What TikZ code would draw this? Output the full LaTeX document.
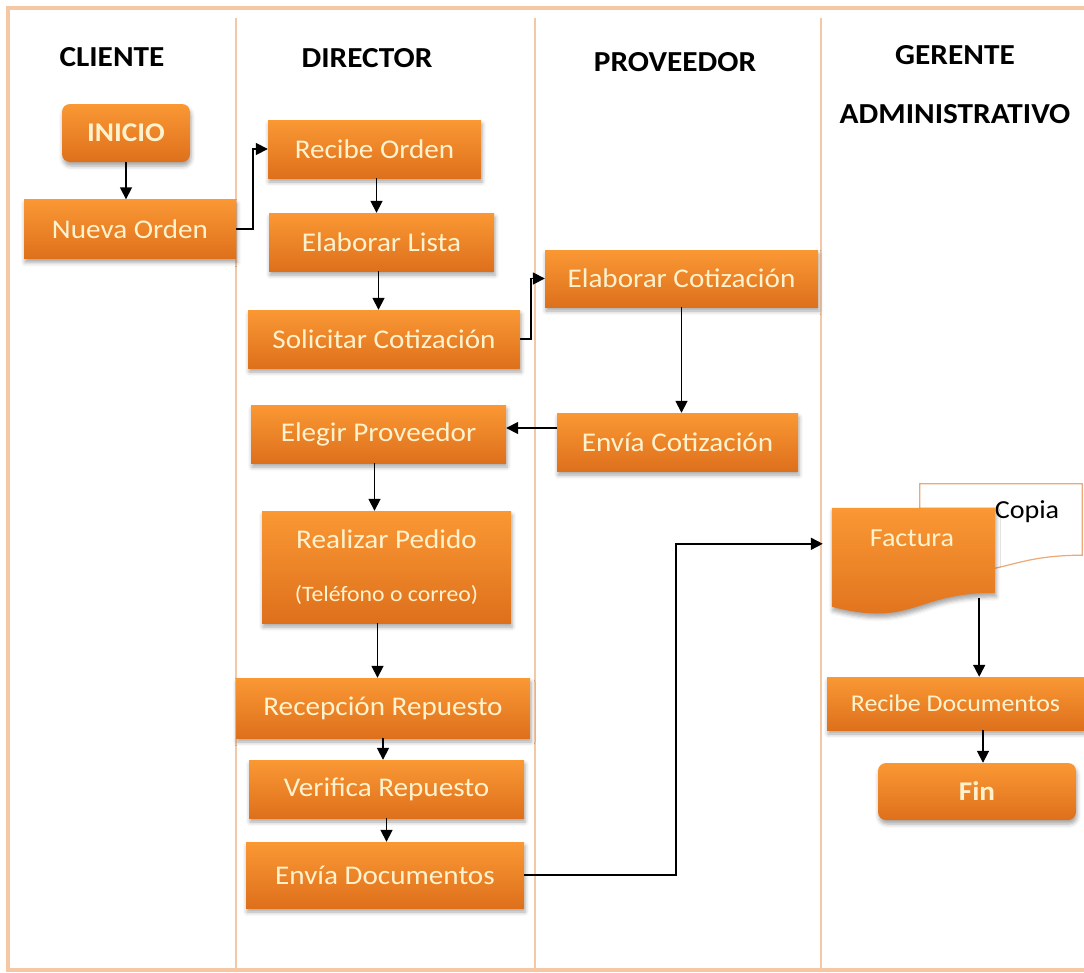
\documentclass[tikz,border=0pt]{standalone}
\usepackage{fontspec}
\setmainfont{Carlito}[FakeStretch=1.08]
\usetikzlibrary{arrows.meta,shadows.blur,calc}

\definecolor{boxtop}{RGB}{250,152,52}
\definecolor{boxbot}{RGB}{222,112,28}
\definecolor{boxtext}{RGB}{255,242,205}
\definecolor{lanecol}{RGB}{244,200,165}
\definecolor{docedge}{RGB}{236,168,118}

\begin{document}
\begin{tikzpicture}[x=1pt,y=1pt,
  boxshadow/.style={blur shadow={shadow xshift=1pt, shadow yshift=-4pt,
      shadow blur radius=4pt, shadow opacity=35}},
  stepbox/.style={rectangle, top color=boxtop, bottom color=boxbot,
      text=boxtext, inner sep=0pt, boxshadow,
      font=\fontsize{27}{32}\selectfont},
  endbox/.style={stepbox, rounded corners=8pt, font=\fontsize{27}{32}\selectfont\bfseries},
  head/.style={font=\fontsize{29}{34}\selectfont\bfseries, text=black, inner sep=0pt},
  arr/.style={-{Triangle[length=12pt,width=12pt]}, line width=1.7pt, black},
  docframe/.style={rectangle, inner sep=0pt, draw=none},
]
\useasboundingbox (0,0) rectangle (1084,-972);

% frame and swimlanes
\draw[lanecol, line width=4pt] (8,-8) rectangle (1110,-970);
\foreach \lx in {236,535,821}
  \draw[lanecol, line width=1.4pt] (\lx,-18) -- (\lx,-972);

% lane headings
\node[head] (h-cliente)  at (112,-57)  {CLIENTE};
\node[head] (h-director) at (367,-58)  {DIRECTOR};
\node[head] (h-prov)     at (675,-62)  {PROVEEDOR};
\node[head] (h-gerente)  at (955,-55)  {GERENTE};
\node[head] (h-admin)    at (955,-114) {ADMINISTRATIVO};

% CLIENTE
\node[endbox, minimum width=128pt, minimum height=58pt] (inicio) at (126,-133) {INICIO};
\node[stepbox, minimum width=212pt, minimum height=59pt] (nueva) at (130,-229) {Nueva Orden};

% DIRECTOR
\node[stepbox, minimum width=213pt, minimum height=58pt] (recibe)    at (374.5,-149) {Recibe Orden};
\node[stepbox, minimum width=225pt, minimum height=58pt] (elablista) at (381.5,-242) {Elaborar Lista};
\node[stepbox, minimum width=272pt, minimum height=58pt] (solic)     at (384,-339)   {Solicitar Cotización};
\node[stepbox, minimum width=255pt, minimum height=58pt] (elegir)    at (378.5,-434) {Elegir Proveedor};
\node[stepbox, minimum width=249pt, minimum height=112pt, align=center] (realizar) at (386.5,-567)
  {Realizar Pedido\\[21pt]{\fontsize{22}{26}\selectfont(Teléfono o correo)}};
\node[stepbox, minimum width=294pt, minimum height=60pt] (recep)  at (383,-708)   {Recepción Repuesto};
\node[stepbox, minimum width=275pt, minimum height=58pt] (verif)  at (386.5,-789) {Verifica Repuesto};
\node[stepbox, minimum width=278pt, minimum height=66pt] (envdoc) at (385,-875)   {Envía Documentos};

% PROVEEDOR
\node[stepbox, minimum width=273pt, minimum height=57pt] (elabcot) at (681.5,-278.5) {Elaborar Cotización};
\node[stepbox, minimum width=241pt, minimum height=58pt] (envcot)  at (677.5,-442)   {Envía Cotización};

% GERENTE ADMINISTRATIVO: copy and invoice documents
\node[docframe, minimum width=162pt, minimum height=89pt]  (copia)   at (1001,-528.5) {};
\node[docframe, minimum width=163pt, minimum height=106pt] (factura) at (913.5,-561)  {};

\draw[docedge, line width=1.2pt, fill=white]
  (copia.north west) -- (copia.north east) -- ($(copia.north east)+(0,-71.4)$)
  .. controls ($(copia.north)+(0,-71.4)$) and ($(copia.north)+(0,-98.6)$)
  .. ($(copia.north west)+(0,-83.1)$) -- cycle;
\node[font=\fontsize{26}{30}\selectfont, text=black, inner sep=0pt] (copia-text) at (1027,-512) {Copia};

\path[top color=boxtop, bottom color=boxbot, boxshadow]
  (factura.north west) -- (factura.north east) -- ($(factura.north east)+(0,-85)$)
  .. controls ($(factura.north)+(0,-85)$) and ($(factura.north)+(0,-120)$)
  .. ($(factura.north west)+(0,-99)$) -- cycle;
\node[font=\fontsize{26}{30}\selectfont, text=boxtext, inner sep=0pt] (factura-text) at (912,-538) {Factura};

\node[stepbox, minimum width=257pt, minimum height=53pt, font=\fontsize{24}{28}\selectfont] (recdoc) at (955.5,-703.5) {Recibe Documentos};
\node[endbox, minimum width=198pt, minimum height=57pt] (fin) at (977,-791.5) {Fin};

% connectors
\draw[arr] (inicio.south) -- (inicio.south |- nueva.north);
\draw[arr] (nueva.east) -- ++(17,0) |- (recibe.west);
\draw[arr] ([xshift=2pt]recibe.south) -- ([xshift=2pt]recibe.south |- elablista.north);
\draw[arr] ([xshift=-3pt]elablista.south) -- ([xshift=-3pt]elablista.south |- solic.north);
\draw[arr] (solic.east) -- ++(11,0) |- (elabcot.west);
\draw[arr] (elabcot.south) -- (elabcot.south |- envcot.north);
\draw[arr] ([yshift=14pt]envcot.west) -- ([yshift=14pt]envcot.west -| elegir.east);
\draw[arr] ([xshift=-4pt]elegir.south) -- ([xshift=-4pt]elegir.south |- realizar.north);
\draw[arr] ([xshift=-9pt]realizar.south) -- ([xshift=-9pt]realizar.south |- recep.north);
\draw[arr] (recep.south) -- (recep.south |- verif.north);
\draw[arr] (verif.south) -- (verif.south |- envdoc.north);

\coordinate (fact-in)  at ([yshift=-36pt]factura.north west);
\coordinate (fact-out) at ([xshift=-16pt,yshift=16pt]factura.south east);
\draw[arr, shorten >=9pt] (envdoc.east) -- ++(152,0) |- (fact-in);
\draw[arr] (fact-out) -- (fact-out |- recdoc.north);
\draw[arr] ([xshift=6pt]fin.north |- recdoc.south) -- ([xshift=6pt]fin.north);
\end{tikzpicture}
\end{document}
